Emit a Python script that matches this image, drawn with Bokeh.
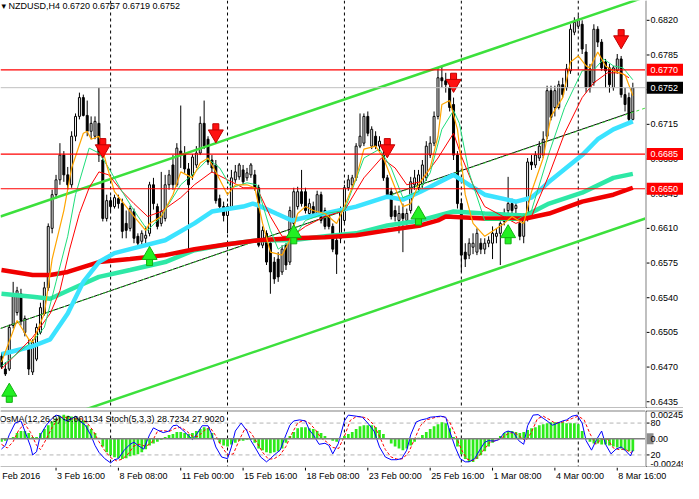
from bokeh.plotting import figure
from bokeh.models import Range1d, Span, Label, ColumnDataSource, Spacer
from bokeh.layouts import column, row
from bokeh.core.properties import value
from bokeh.embed import file_html
from bokeh.resources import INLINE

FONT = "Liberation Sans"

# ---------------- data (NZDUSD H4, bar index 0 = 1 Feb 2016 08:00) ----------------
open_ = [0.6481,0.6468,0.6468,0.6512,0.6525,0.6544,0.6505,0.6491,0.6465,0.6478,
         0.6505,0.6524,0.6550,0.6610,0.6644,0.6659,0.6684,0.6664,0.6654,0.6703,
         0.6723,0.6742,0.6724,0.6708,0.6703,0.6716,0.6679,0.6620,0.6638,0.6632,
         0.6640,0.6635,0.6615,0.6610,0.6627,0.6602,0.6597,0.6600,0.6605,0.6654,
         0.6632,0.6615,0.6620,0.6654,0.6674,0.6654,0.6688,0.6685,0.6670,0.6664,
         0.6674,0.6686,0.6716,0.6700,0.6679,0.6674,0.6640,0.6632,0.6623,0.6632,
         0.6659,0.6662,0.6669,0.6661,0.6664,0.6664,0.6651,0.6593,0.6605,0.6595,
         0.6576,0.6579,0.6566,0.6593,0.6576,0.6615,0.6632,0.6647,0.6647,0.6625,
         0.6632,0.6625,0.6644,0.6628,0.6622,0.6612,0.6598,0.6600,0.6618,0.6651,
         0.6654,0.6661,0.6693,0.6696,0.6723,0.6693,0.6703,0.6693,0.6684,0.6661,
         0.6647,0.6628,0.6618,0.6625,0.6618,0.6628,0.6654,0.6651,0.6654,0.6661,
         0.6684,0.6696,0.6723,0.6762,0.6759,0.6752,0.6735,0.6684,0.6635,0.6586,
         0.6583,0.6591,0.6586,0.6595,0.6589,0.6595,0.6595,0.6602,0.6605,0.6617,
         0.6628,0.6635,0.6630,0.6615,0.6602,0.6620,0.6677,0.6674,0.6681,0.6684,
         0.6703,0.6749,0.6732,0.6732,0.6755,0.6752,0.6769,0.6808,0.6814,0.6816,
         0.6788,0.6771,0.6757,0.6811,0.6798,0.6778,0.6772,0.6752,0.6769,0.6781,
         0.6745,0.6742,0.6720]
high = [0.6485,0.6475,0.6513,0.6556,0.6551,0.6549,0.6522,0.6498,0.6498,0.6514,
        0.6535,0.6556,0.6615,0.6649,0.6664,0.6696,0.6688,0.6672,0.6708,0.6726,
        0.6747,0.6745,0.6739,0.6723,0.6723,0.6752,0.6684,0.6644,0.6642,0.6644,
        0.6644,0.6640,0.6628,0.6633,0.6630,0.6605,0.6608,0.6612,0.6657,0.6661,
        0.6635,0.6667,0.6664,0.6669,0.6684,0.6696,0.6734,0.6693,0.6676,0.6685,
        0.6693,0.6723,0.6739,0.6703,0.6684,0.6679,0.6644,0.6637,0.6635,0.6669,
        0.6674,0.6676,0.6674,0.6671,0.6676,0.6669,0.6654,0.6612,0.6608,0.6598,
        0.6581,0.6586,0.6593,0.6595,0.6632,0.6651,0.6652,0.6669,0.6651,0.6640,
        0.6637,0.6648,0.6647,0.6631,0.6625,0.6615,0.6605,0.6632,0.6654,0.6664,
        0.6664,0.6696,0.6726,0.6726,0.6728,0.6713,0.6708,0.6703,0.6688,0.6664,
        0.6651,0.6633,0.6633,0.6635,0.6630,0.6662,0.6669,0.6669,0.6679,0.6698,
        0.6703,0.6728,0.6772,0.6773,0.6767,0.6757,0.6742,0.6688,0.6640,0.6595,
        0.6600,0.6605,0.6610,0.6600,0.6600,0.6602,0.6612,0.6610,0.6617,0.6630,
        0.6662,0.6640,0.6638,0.6620,0.6625,0.6681,0.6684,0.6688,0.6698,0.6708,
        0.6754,0.6754,0.6754,0.6759,0.6762,0.6776,0.6816,0.6823,0.6825,0.6820,
        0.6796,0.6776,0.6816,0.6814,0.6801,0.6781,0.6776,0.6774,0.6786,0.6784,
        0.6752,0.6747,0.6757]
low = [0.6468,0.6461,0.6466,0.6509,0.6522,0.6512,0.6501,0.6462,0.6462,0.6476,
       0.6503,0.6522,0.6547,0.6605,0.6640,0.6654,0.6657,0.6649,0.6651,0.6698,
       0.6720,0.6723,0.6703,0.6700,0.6700,0.6677,0.6617,0.6617,0.6627,0.6630,
       0.6630,0.6600,0.6600,0.6607,0.6595,0.6593,0.6594,0.6593,0.6602,0.6629,
       0.6609,0.6612,0.6617,0.6649,0.6649,0.6652,0.6671,0.6666,0.6586,0.6659,
       0.6671,0.6684,0.6690,0.6674,0.6666,0.6635,0.6627,0.6617,0.6605,0.6630,
       0.6656,0.6659,0.6654,0.6658,0.6661,0.6648,0.6591,0.6590,0.6573,0.6544,
       0.6554,0.6556,0.6563,0.6568,0.6573,0.6612,0.6629,0.6632,0.6625,0.6622,
       0.6621,0.6622,0.6615,0.6609,0.6609,0.6586,0.6564,0.6595,0.6615,0.6648,
       0.6651,0.6658,0.6691,0.6693,0.6703,0.6690,0.6690,0.6688,0.6658,0.6641,
       0.6619,0.6617,0.6605,0.6586,0.6613,0.6625,0.6649,0.6648,0.6651,0.6658,
       0.6681,0.6693,0.6720,0.6752,0.6747,0.6728,0.6679,0.6630,0.6566,0.6571,
       0.6579,0.6584,0.6583,0.6584,0.6584,0.6591,0.6579,0.6595,0.6573,0.6613,
       0.6623,0.6618,0.6625,0.6598,0.6595,0.6617,0.6669,0.6671,0.6678,0.6681,
       0.6700,0.6719,0.6723,0.6730,0.6742,0.6749,0.6766,0.6805,0.6811,0.6786,
       0.6747,0.6747,0.6754,0.6793,0.6769,0.6752,0.6747,0.6749,0.6766,0.6742,
       0.6728,0.6716,0.6719]
close = [0.6470,0.6463,0.6510,0.6542,0.6547,0.6517,0.6519,0.6468,0.6495,0.6510,
         0.6530,0.6550,0.6612,0.6644,0.6659,0.6684,0.6664,0.6654,0.6703,0.6723,
         0.6742,0.6724,0.6708,0.6716,0.6718,0.6684,0.6620,0.6638,0.6632,0.6641,
         0.6635,0.6607,0.6608,0.6630,0.6600,0.6595,0.6605,0.6603,0.6654,0.6635,
         0.6612,0.6627,0.6654,0.6664,0.6654,0.6691,0.6685,0.6670,0.6654,0.6682,
         0.6686,0.6716,0.6693,0.6677,0.6671,0.6638,0.6632,0.6623,0.6632,0.6661,
         0.6667,0.6674,0.6657,0.6666,0.6674,0.6651,0.6593,0.6608,0.6576,0.6566,
         0.6559,0.6561,0.6589,0.6573,0.6628,0.6647,0.6647,0.6635,0.6628,0.6635,
         0.6625,0.6644,0.6618,0.6612,0.6612,0.6589,0.6584,0.6628,0.6651,0.6659,
         0.6661,0.6693,0.6703,0.6723,0.6706,0.6710,0.6693,0.6698,0.6661,0.6644,
         0.6622,0.6622,0.6625,0.6620,0.6625,0.6657,0.6661,0.6664,0.6674,0.6693,
         0.6696,0.6723,0.6762,0.6759,0.6755,0.6732,0.6684,0.6635,0.6583,0.6579,
         0.6595,0.6595,0.6605,0.6589,0.6595,0.6598,0.6605,0.6605,0.6615,0.6625,
         0.6635,0.6628,0.6633,0.6602,0.6620,0.6677,0.6674,0.6684,0.6693,0.6700,
         0.6749,0.6722,0.6749,0.6755,0.6745,0.6771,0.6811,0.6818,0.6820,0.6791,
         0.6752,0.6752,0.6811,0.6798,0.6772,0.6769,0.6755,0.6772,0.6781,0.6745,
         0.6735,0.6720,0.6752]

# moving averages (bar index, price)
ma_red_x = [0,8,12.5,17,25,33,42,49.5,58,66,74.5,83,91,99,107.5,112,114,124,134.5,140.5,149,157,162]
ma_red_y = [0.6568,0.6563,0.6563,0.6566,0.6576,0.6579,0.6583,0.6589,0.6594,0.6598,0.6600,0.6601,0.6603,0.6608,0.6613,0.6618,0.6622,0.6620,0.6620,0.6625,0.6637,0.6644,0.6651]
ma_cyan_x = [0,8,12.5,17,21,25,29,33,42,49.5,54,62,64.5,66,70.5,74.5,79,83,91,99,103,107.5,116,120,124,132,136,140.5,149,153,157,162]
ma_cyan_y = [0.6483,0.6491,0.6498,0.6524,0.6556,0.6576,0.6585,0.6589,0.6598,0.6615,0.6627,0.6632,0.6635,0.6633,0.6625,0.6618,0.6622,0.6625,0.6632,0.6642,0.6639,0.6647,0.6664,0.6654,0.6644,0.6637,0.6641,0.6657,0.6684,0.6700,0.6710,0.6718]
ma_aqua_x = [0,8,12.5,17,25,33,42,49.5,58,66,74.5,83,91,99,107.5,116,124,134.5,140.5,149,157,162]
ma_aqua_y = [0.6544,0.6541,0.6539,0.6547,0.6561,0.6568,0.6576,0.6588,0.6594,0.6598,0.6598,0.6602,0.6605,0.6613,0.6618,0.6627,0.6625,0.6623,0.6635,0.6646,0.6661,0.6665]
ma_orange_x = [0,4,7,8,11,13,16,18,21,22,23,25,27,29,32,34,37,38,41,44,46,49,51,53,55,58,60,63,65,67,69,72,74,76,78,80,83,86,88,91,93,96,98,101,103,105,107,110,112,113,115,117,119,121,124,129,131,134,136,139,141,144,146,148,150,151,153,155,157,160,162]
ma_orange_y = [0.6475,0.6517,0.6498,0.6495,0.6524,0.6579,0.6628,0.6671,0.6706,0.6708,0.6700,0.6703,0.6674,0.6647,0.6632,0.6622,0.6608,0.6615,0.6622,0.6644,0.6667,0.6661,0.6676,0.6681,0.6667,0.6644,0.6654,0.6654,0.6651,0.6615,0.6586,0.6583,0.6598,0.6625,0.6632,0.6628,0.6625,0.6615,0.6632,0.6661,0.6690,0.6693,0.6681,0.6651,0.6632,0.6635,0.6654,0.6671,0.6703,0.6735,0.6739,0.6710,0.6644,0.6615,0.6602,0.6615,0.6622,0.6615,0.6647,0.6681,0.6723,0.6742,0.6778,0.6784,0.6774,0.6772,0.6788,0.6774,0.6769,0.6765,0.6744]
ma_green_x = [0,8,11,14,17,19,22.5,25,27.5,31,34,37.5,41,46,49.5,53,56,59,63,65.5,69,71,74.5,78,83,88,93,97,100,103,107,110,113,116,117.5,120,124,132,136,140.5,144.5,149,152,154.5,157,159.5,162]
ma_green_y = [0.6471,0.6496,0.6510,0.6556,0.6602,0.6644,0.6691,0.6686,0.6671,0.6647,0.6628,0.6608,0.6622,0.6654,0.6666,0.6680,0.6671,0.6651,0.6656,0.6654,0.6608,0.6589,0.6598,0.6618,0.6625,0.6628,0.6681,0.6690,0.6671,0.6641,0.6647,0.6666,0.6710,0.6729,0.6716,0.6666,0.6618,0.6618,0.6628,0.6686,0.6732,0.6769,0.6770,0.6781,0.6774,0.6772,0.6760]
ma_redthin_x = [0,8,12.5,15,17.5,20,22.5,25,27.5,31,34,37.5,41,46,49.5,54,58,62,65.5,69,72,74.5,78,83,88,93,97.5,101,104,107.5,112,116,118,121,124,132,136,140.5,144.5,149,152,155.5,159,161]
ma_redthin_y = [0.6468,0.6500,0.6524,0.6547,0.6589,0.6625,0.6651,0.6667,0.6664,0.6647,0.6635,0.6622,0.6627,0.6641,0.6654,0.6667,0.6659,0.6651,0.6651,0.6622,0.6602,0.6602,0.6612,0.6622,0.6628,0.6661,0.6681,0.6671,0.6654,0.6657,0.6681,0.6706,0.6683,0.6654,0.6632,0.6615,0.6622,0.6664,0.6706,0.6742,0.6757,0.6767,0.6767,0.6762]

# channel and trend lines (endpoints: bar, price)
chan_up_x = [-0.25, 165.25]
chan_up_y = [0.6622, 0.68436]
chan_lo_x = [-0.25, 165.25]
chan_lo_y = [0.6398, 0.6620]
trend_x = [-0.25, 162.25]
trend_y = [0.6509, 0.6728]
mid_x = [-0.25, 165.25]
mid_y = [0.6509, 0.67315]

# horizontal levels and price tags
red_levels = [0.6770, 0.6685, 0.6650]
bid_level = 0.6752
tag_levels = [0.6770, 0.6752, 0.6685, 0.6650]
tag_colors = ["#FF0000", "#000000", "#FF0000", "#FF0000"]

# signal arrows
down_x = [26, 55, 99, 116, 159]
down_y = [0.6691, 0.6706, 0.6691, 0.6757, 0.6801]
up_x = [2, 38, 75, 107, 130]
up_y = [0.6444, 0.6582, 0.6604, 0.6623, 0.6604]

# weekly separators and axes
separators = [28, 58, 88, 118, 148]
price_ticks = [0.6435, 0.6470, 0.6505, 0.6540, 0.6575, 0.6610, 0.6645, 0.6680, 0.6715, 0.6750, 0.6785, 0.6820]
time_ticks = [-2, 14, 30, 46, 62, 78, 94, 110, 126, 142, 158]
time_labels = ["1 Feb 2016", "3 Feb 16:00", "8 Feb 08:00", "11 Feb 00:00", "15 Feb 16:00", "18 Feb 08:00",
               "23 Feb 00:00", "25 Feb 16:00", "1 Mar 08:00", "4 Mar 00:00", "8 Mar 16:00"]

# OsMA(12,26,9) histogram per bar
osma = [-0.00026,-0.00017,0.0,0.00017,0.00052,0.00069,0.00069,0.00052,0.00017,0.00017,
        0.00052,0.00087,0.00122,0.00156,0.00182,0.00208,0.00217,0.00208,0.00200,0.00191,
        0.00182,0.00165,0.00122,0.00087,0.00052,0.00009,-0.00069,-0.00122,-0.00148,-0.00165,
        -0.00174,-0.00182,-0.00174,-0.00156,-0.00148,-0.00139,-0.00122,-0.00095,-0.00061,-0.00043,
        -0.00026,-0.00009,0.00017,0.00035,0.00043,0.00061,0.00061,0.00052,0.00043,0.00052,
        0.00069,0.00087,0.00104,0.00095,0.00052,0.0,-0.00035,-0.00061,-0.00069,-0.00052,
        -0.00035,-0.00017,-0.00017,-0.00009,-0.00009,-0.00035,-0.00087,-0.00104,-0.00122,-0.00130,
        -0.00122,-0.00113,-0.00087,-0.00035,0.00026,0.00061,0.00095,0.00104,0.00104,0.00095,
        0.00087,0.00069,0.00052,0.00026,0.0,-0.00017,-0.00026,0.0,0.00026,0.00043,
        0.00061,0.00087,0.00113,0.00122,0.00122,0.00122,0.00104,0.00078,0.00043,0.0,
        -0.00043,-0.00069,-0.00087,-0.00104,-0.00087,-0.00061,-0.00026,0.00009,0.00035,0.00061,
        0.00087,0.00113,0.00130,0.00148,0.00139,0.00095,0.00017,-0.00069,-0.00139,-0.00182,
        -0.00208,-0.00208,-0.00182,-0.00148,-0.00113,-0.00069,-0.00035,0.0,0.00026,0.00052,
        0.00069,0.00069,0.00061,0.00052,0.00061,0.00078,0.00095,0.00104,0.00122,0.00130,
        0.00139,0.00148,0.00148,0.00148,0.00148,0.00139,0.00139,0.00139,0.00130,0.00069,
        0.0,-0.00026,-0.00043,-0.00043,-0.00052,-0.00052,-0.00061,-0.00069,-0.00078,-0.00087,
        -0.00104,-0.00113,-0.00113]
osma_max = 0.002453
osma_min = -0.00249

# Stochastic(5,3,3)
stoch_x = [0,1,2,3.5,5,6,7.5,8,9,10,11.5,13,14,15,16.5,18,19,20,21.5,23,24,25,26.5,28,29,30,31.5,33,34,35,36.5,38,39,40,41.5,43,44,45,46.5,48,49,50,51.5,53,54,55,56.5,58,59,60,61.5,63,64,65,66.5,68,69,70,71.5,73,74,75,76.5,78,79,80,81.5,83,84,85,86.4,88,89,91,92.6,94,95.6,97,98.5,100,101.4,102.7,104,105,106.4,107.7,109,110,111.4,112.7,114,115,116.4,117.7,119,120,121.4,122.7,124,125,126.4,127.7,129,130,131.4,132.7,134,135,136.4,137.7,139,140,141.4,142.7,144,145,146.4,147.7,149,150,151.4,152.7,154,155,156.4,157.7,159,160,161.4,162]
stoch_main = [31,38,58,80,84,65,35,20,26,58,76,89,95,93,84,88,93,84,76,56,38,25,13,5,11,13,29,40,44,38,31,58,71,67,62,65,75,76,67,56,49,58,75,75,58,35,16,13,35,65,80,65,47,35,16,7,13,20,29,58,76,84,86,84,67,58,40,42,38,22,41,84,95,93,91,80,65,35,16,11,11,13,29,58,82,86,88,91,92,93,91,65,35,13,7,7,13,29,44,47,46,49,62,65,62,47,40,75,95,96,89,84,76,80,84,86,93,95,80,47,29,49,65,40,22,31,35,29,18,28.7]
signal_x = [0,1.5,3,4.5,6,7.5,9,10,11.5,13,14.5,16,17.5,19,20.5,22,23.5,25,26.5,28,29.5,31,32.5,34,35.5,37,38.5,40,41.5,43,44.5,46,47.5,49,50.5,52,53.5,55,56.5,58,59.5,61,62.5,64,65.5,67,68.5,70,71.5,73,74.5,76,77.5,79,80.5,82,83.5,85,86.5,88,89.5,91,92.5,94,95.5,97,98.5,100,101.5,103,104.5,106,107.5,109,110.5,112,113.5,115,116.5,118,119.5,121,122.5,124,125.5,127,128.5,130,131.5,133,134.5,136,137.5,139,140.5,142,143.5,145,146.5,148,149.5,151,152.5,154,155.5,157,158.5,160,161.5,162]
stoch_signal = [40,33,45,68,78,62,38,30,50,72,88,92,88,88,88,80,66,45,28,15,9,12,22,37,40,36,43,64,66,64,70,72,65,55,55,66,72,56,36,20,22,48,70,62,44,25,12,13,20,36,60,80,85,80,68,52,44,34,32,55,85,92,92,88,77,55,30,16,12,13,25,50,75,86,89,92,92,82,58,30,12,9,18,32,45,47,53,60,63,55,46,63,88,93,87,80,81,84,89,93,86,60,40,50,50,33,30,31,24,27.9]
stoch_levels = [20, 80]
stoch_labels = ["20", "80"]

title_text = "NZDUSD,H4  0.6720 0.6757 0.6719 0.6752"
sub_text = "OsMA(12,26,9) -0.001134  Stoch(5,3,3) 28.7234 27.9020"

# ---------------- geometry ----------------
FW = 645          # plot frame width
AW = 38           # right price-scale strip width
MAIN_H = 407      # main frame height
SUB_H = 55        # indicator frame height
TIME_H = 16       # time scale height
X0, X1 = -0.25, 165.25
Y0, Y1 = 0.64292, 0.6840
ppx = (Y1 - Y0) / MAIN_H

def base_fig(**kw):
    f = figure(output_backend="svg", toolbar_location=None,
               x_axis_location=None, y_axis_location=None, **kw)
    f.grid.visible = False
    f.outline_line_color = None
    f.background_fill_color = "white"
    return f

x_rng = Range1d(X0, X1)
y_main = Range1d(Y0, Y1)

# ---------------- main chart ----------------
p = base_fig(width=FW, height=MAIN_H + 1, x_range=x_rng, y_range=y_main,
             min_border_left=0, min_border_top=0, min_border_right=0, min_border_bottom=1)
p.border_fill_color = "black"

for b in separators:
    p.add_layout(Span(location=b, dimension="height", line_color="black", line_dash="3 3",
                      line_width=1, level="underlay"))

n = len(close)
bars = list(range(n))
src = ColumnDataSource(dict(
    x=bars,
    top=[max(o, c) for o, c in zip(open_, close)],
    bottom=[min(o, c) for o, c in zip(open_, close)],
    high=high, low=low,
    fill=["white" if c >= o else "black" for o, c in zip(open_, close)],
))
p.segment(x0="x", y0="low", x1="x", y1="high", source=src, line_color="black", line_width=1)
p.vbar(x="x", top="top", bottom="bottom", width=0.5, fill_color="fill", line_color="black",
       line_width=1, source=src)

p.line(chan_up_x, chan_up_y, line_color="#3CE03C", line_width=2.5)
p.line(chan_lo_x, chan_lo_y, line_color="#3CE03C", line_width=2.5)
p.line(trend_x, trend_y, line_color="black", line_width=1)
p.line(mid_x, mid_y, line_color="#3CE03C", line_width=1, line_dash="3 3")

p.line(ma_aqua_x, ma_aqua_y, line_color="#2EE8A6", line_width=4.5)
p.line(ma_red_x, ma_red_y, line_color="#F00000", line_width=4.5)
p.line(ma_cyan_x, ma_cyan_y, line_color="#3BE3FF", line_width=4.5)
p.line(ma_redthin_x, ma_redthin_y, line_color="#FF0000", line_width=1)
p.line(ma_green_x, ma_green_y, line_color="#1EDC7A", line_width=1)
p.line(ma_orange_x, ma_orange_y, line_color="#FFA500", line_width=1.2)

for lvl in red_levels:
    p.add_layout(Span(location=lvl, dimension="width", line_color="#FF0000", line_width=1.2))
p.add_layout(Span(location=bid_level, dimension="width", line_color="#C0C0C0", line_width=1))

p.rect(x=down_x, y=[v + 5.5 * ppx for v in down_y], width=6, height=8,
       width_units="screen", height_units="screen", fill_color="#FF1010", line_color="#C00000")
p.scatter(x=down_x, y=[v - 1 * ppx for v in down_y], marker="inverted_triangle", size=15,
          fill_color="#FF1010", line_color="#C00000")
p.rect(x=up_x, y=[v - 5.5 * ppx for v in up_y], width=6, height=8,
       width_units="screen", height_units="screen", fill_color="#22F022", line_color="#10B010")
p.scatter(x=up_x, y=[v + 1 * ppx for v in up_y], marker="triangle", size=15,
          fill_color="#22F022", line_color="#10B010")

p.add_layout(Label(x=X0, y=Y1, x_offset=1, text="\u25be", text_baseline="top",
                   text_font="DejaVu Sans", text_font_size="9px", text_color="black"))
p.add_layout(Label(x=X0, y=Y1, x_offset=8, text=title_text, text_baseline="top",
                   text_font=FONT, text_font_size="9px", text_color="black"))

# price scale strip (right)
ms = base_fig(width=AW, height=MAIN_H + 1, x_range=Range1d(0, AW - 1), y_range=y_main,
              min_border_left=1, min_border_top=0, min_border_right=0, min_border_bottom=1)
ms.border_fill_color = "black"
ms.segment(x0=[0] * len(price_ticks), y0=price_ticks, x1=[3] * len(price_ticks), y1=price_ticks,
           line_color="black", line_width=1)
ms.text(x=[4] * len(price_ticks), y=price_ticks, text=["%.4f" % t for t in price_ticks],
        text_align="left", text_baseline="middle", text_font=value(FONT),
        text_font_size=value("9px"), text_color="black")
ms.rect(x=[(AW - 1) / 2] * len(tag_levels), y=tag_levels, width=AW - 1, height=12,
        width_units="screen", height_units="screen", fill_color=tag_colors, line_color=None)
ms.text(x=[4] * len(tag_levels), y=tag_levels, text=["%.4f" % t for t in tag_levels],
        text_align="left", text_baseline="middle", text_font=value(FONT),
        text_font_size=value("9px"), text_color="white")

# ---------------- indicator window ----------------
y_sub = Range1d(-1.8, 101.8)
osma_rng = Range1d(osma_min, osma_max)
s = base_fig(width=FW, height=SUB_H + 2, x_range=x_rng, y_range=y_sub,
             min_border_left=0, min_border_top=1, min_border_right=0, min_border_bottom=1)
s.border_fill_color = "black"
s.extra_y_ranges = {"osma": osma_rng}

for b in separators:
    s.add_layout(Span(location=b, dimension="height", line_color="black", line_dash="3 3",
                      line_width=1, level="underlay"))
for lv in stoch_levels:
    s.add_layout(Span(location=lv, dimension="width", line_color="#B4B4B4", line_dash="4 3",
                      line_width=1, level="underlay"))

s.vbar(x=bars, top=osma, bottom=0, width=0.7, fill_color="#2DEB1A", line_color=None,
       y_range_name="osma")
s.add_layout(Span(location=0, dimension="width", line_color="#808080", line_width=1.5,
                  y_range_name="osma"))
s.line(signal_x, stoch_signal, line_color="#FF0000", line_width=1, line_dash="3 2")
s.line(stoch_x, stoch_main, line_color="#0000FF", line_width=1)
s.add_layout(Label(x=X0, y=97, x_offset=-1, text=sub_text, text_baseline="top",
                   text_font=FONT, text_font_size="9px", text_color="black"))

ss = base_fig(width=AW, height=SUB_H + 2, x_range=Range1d(0, AW - 1), y_range=y_sub,
              min_border_left=1, min_border_top=1, min_border_right=0, min_border_bottom=1)
ss.border_fill_color = "black"
ss.extra_y_ranges = {"osma": osma_rng}
ss.segment(x0=[0, 0], y0=stoch_levels, x1=[3, 3], y1=stoch_levels, line_color="black")
ss.text(x=[4, 4], y=stoch_levels, text=stoch_labels, text_align="left", text_baseline="middle",
        text_font=value(FONT), text_font_size=value("9px"), text_color="black")
ss.text(x=[4], y=[osma_max], text=["%.6f" % osma_max], text_align="left", text_baseline="top",
        text_font=value(FONT), text_font_size=value("9px"), text_color="black", y_range_name="osma")
ss.text(x=[4], y=[osma_min], text=["%.5f" % osma_min], text_align="left", text_baseline="bottom",
        text_font=value(FONT), text_font_size=value("9px"), text_color="black", y_range_name="osma")
ss.rect(x=[3.5], y=[0.0], width=7, height=11, width_units="screen", height_units="screen",
        fill_color="#8C8C8C", line_color=None, y_range_name="osma")
ss.text(x=[4], y=[0.0], text=["0.00"], text_align="left", text_baseline="middle",
        text_font=value(FONT), text_font_size=value("9px"), text_color="black", y_range_name="osma")

# ---------------- time scale ----------------
tf = base_fig(width=FW + AW, height=TIME_H, x_range=Range1d(X0, X0 + (X1 - X0) * (FW + AW) / FW),
              y_range=Range1d(0, TIME_H),
              min_border_left=0, min_border_top=0, min_border_right=0, min_border_bottom=0)
tf.border_fill_color = "white"
tf.segment(x0=time_ticks, y0=[TIME_H] * len(time_ticks), x1=time_ticks,
           y1=[TIME_H - 3] * len(time_ticks), line_color="black", line_width=1)
tf.text(x=time_ticks, y=[TIME_H / 2 - 0.5] * len(time_ticks), text=time_labels, x_offset=1,
        text_align="left", text_baseline="middle", text_font=value(FONT),
        text_font_size=value("9px"), text_color="black")

layout = column(row(p, ms), Spacer(height=2), row(s, ss), tf)
open("out.html", "w").write(file_html(layout, INLINE))
